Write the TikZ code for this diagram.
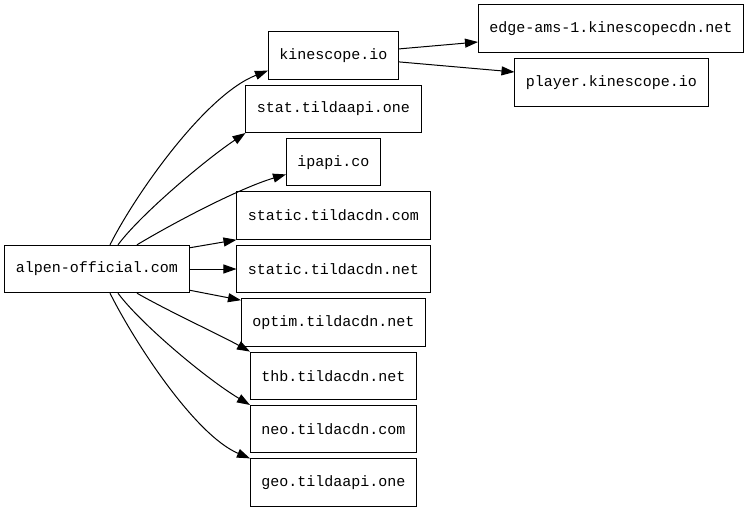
\documentclass[tikz,border=0pt]{standalone}
\usepackage{fontspec}
\setmonofont{Liberation Mono}
\usetikzlibrary{arrows.meta,positioning}
\tikzset{
  every node/.style={
    font=\ttfamily\fontsize{15}{18}\selectfont
  },
  host/.style={
    shape=rectangle,
    draw=black,
    line width=1pt,
    minimum height=47.4pt,
    inner xsep=11pt,
    inner ysep=0pt,
    text centered
  },
  link/.style={
    line width=1pt,
    -{Triangle[length=13pt,width=9pt]}
  }
}
\begin{document}
\begin{tikzpicture}[x=1pt,y=-1pt,node distance=5pt]
    \fill [white] (0,0) rectangle (749,512);
    \useasboundingbox (0,0) rectangle (749,512);
    % source host
    \node [host] (alpen) at (97,269) {alpen-official.com};
    % column of hosts
    \node [host] (staticnet) at (333.5,269) {static.tildacdn.net};
    \node [host, above=of staticnet] (staticcom) {static.tildacdn.com};
    \node [host, above=of staticcom] (ipapi) {ipapi.co};
    \node [host, above=of ipapi] (stat) {stat.tildaapi.one};
    \node [host, above=of stat] (kinescope) {kinescope.io};
    \node [host, below=of staticnet] (optim) {optim.tildacdn.net};
    \node [host, below=of optim] (thb) {thb.tildacdn.net};
    \node [host, below=of thb] (neo) {neo.tildacdn.com};
    \node [host, below=of neo] (geo) {geo.tildaapi.one};
    % kinescope hosts
    \node [host] (edgeams) at (611,28.5) {edge-ams-1.kinescopecdn.net};
    \node [host] (player) at (611.5,82.5) {player.kinescope.io};

    \draw [link] ([xshift=13pt]alpen.north) .. controls (135,195) and (205,95) .. ([yshift=9pt]kinescope.south west);
    \draw [link] ([xshift=21pt]alpen.north) .. controls (140,215) and (205,160) .. (stat.south west);
    \draw [link] ([xshift=40pt]alpen.north) .. controls (175,222) and (240,188) .. ([yshift=12pt]ipapi.south west);
    \draw [link] ([yshift=-3pt]alpen.north east) -- (staticcom.south west);
    \draw [link] (alpen.east) -- (staticnet.west);
    \draw [link] ([yshift=3pt]alpen.south east) -- ([yshift=-2pt]optim.north west);
    \draw [link] ([xshift=40pt]alpen.south) .. controls (170,312) and (220,335) .. (thb.north west);
    \draw [link] ([xshift=21pt]alpen.south) .. controls (140,323) and (205,378) .. (neo.north west);
    \draw [link] ([xshift=13pt]alpen.south) .. controls (135,343) and (195,435) .. (geo.north west);
    \draw [link] ([yshift=6.5pt]kinescope.east) -- ([yshift=-13.5pt]edgeams.west);
    \draw [link] ([yshift=-6.5pt]kinescope.east) -- ([yshift=10.5pt]player.west);
\end{tikzpicture}
\end{document}
